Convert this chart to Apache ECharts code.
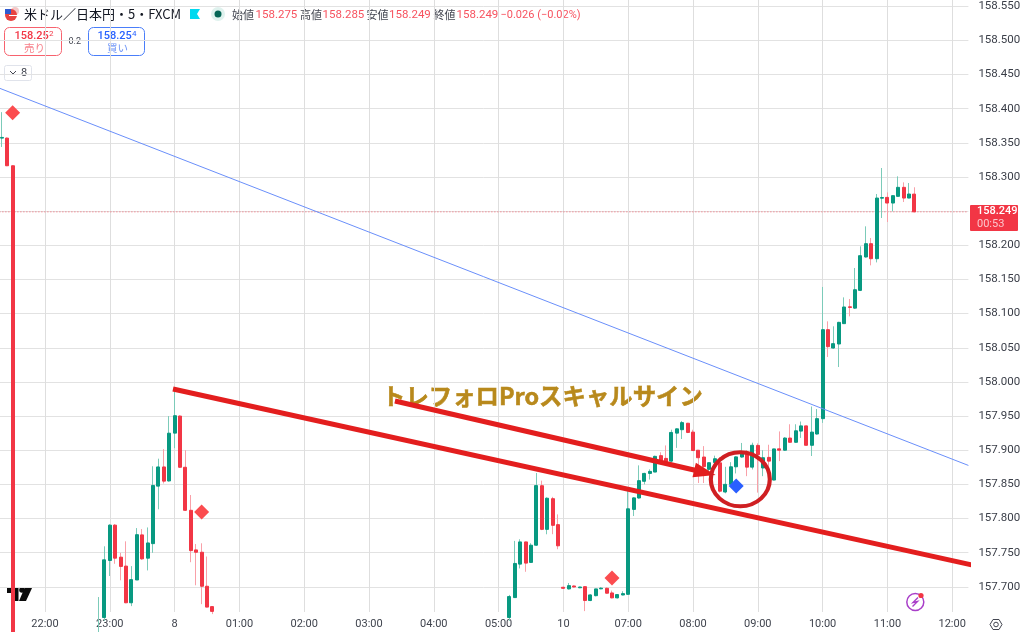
<!DOCTYPE html>
<html>
<head>
<meta charset="utf-8">
<style>html,body{margin:0;padding:0;background:#fff}#c{width:1024px;height:632px}</style>
<script src="https://cdn.jsdelivr.net/npm/echarts@6/dist/echarts.min.js"></script>
</head>
<body>
<div id="c"></div>
<script>
// --- axis labels
const gridPrices = [157.7,157.75,157.8,157.85,157.9,157.95,158,158.05,158.1,158.15,158.2,158.25,158.3,158.35,158.4,158.45,158.5,158.55];
const labelPrices = [157.7,157.75,157.8,157.85,157.9,157.95,158,158.05,158.1,158.15,158.2,158.3,158.35,158.4,158.45,158.5,158.55];
const dayLabels = {'00:00':'8','06:00':'10'};
const firstCategory = '21:15', categoryCount = 181;

// --- candles: [open, close, low, high]
const segAStart = '21:20';
const segA = [
 [158.357,158.358,158.344,158.395],
 [158.357,158.3165,158.316,158.358],
 [158.3165,157.6,157.6,158.317]
];
const segBStart = '22:50';
const segB = [
 [157.64,157.65,157.63,157.685],
 [157.655,157.7395,157.65,157.7593],
 [157.7385,157.7903,157.7158,157.7915],
 [157.7903,157.7419,157.7337,157.7918],
 [157.7434,157.7298,157.7095,157.7497],
 [157.7303,157.6766,157.676,157.7666],
 [157.6766,157.7105,157.6717,157.7303],
 [157.71,157.7763,157.71,157.786],
 [157.776,157.7409,157.7395,157.7845],
 [157.7419,157.7642,157.724,157.7869],
 [157.7632,157.8484,157.7497,157.8765],
 [157.8474,157.8755,157.8135,157.8876],
 [157.8755,157.8547,157.8513,157.9016],
 [157.855,157.9249,157.854,157.95],
 [157.925,157.9505,157.903,157.99],
 [157.95,157.875,157.874,157.951],
 [157.875,157.812,157.811,157.9],
 [157.812,157.753,157.736,157.8344],
 [157.754,157.7506,157.7022,157.7627],
 [157.7506,157.7008,157.6746,157.7637],
 [157.7008,157.6703,157.67,157.7443],
 [157.671,157.664,157.66,157.671]
];
const segCStart = '05:10';
const segC = [
 [157.655,157.6857,157.65,157.6881],
 [157.6842,157.7342,157.684,157.7672],
 [157.7332,157.7657,157.7269,157.7696],
 [157.7657,157.7347,157.722,157.766],
 [157.7357,157.7609,157.735,157.7638],
 [157.7609,157.8482,157.76,157.8666],
 [157.848,157.7841,157.783,157.8554],
 [157.7841,157.8297,157.7769,157.831],
 [157.829,157.79,157.777,157.8317],
 [157.791,157.76,157.755,157.806],
 [157.6993,157.6978,157.697,157.7],
 [157.6969,157.7017,157.696,157.7056],
 [157.7012,157.6997,157.699,157.702],
 [157.6986,157.6997,157.698,157.7],
 [157.7002,157.6799,157.6644,157.7005],
 [157.6799,157.6881,157.679,157.689],
 [157.687,157.6969,157.686,157.697],
 [157.697,157.698,157.6965,157.6993],
 [157.6978,157.6906,157.69,157.699],
 [157.691,157.6838,157.683,157.6944],
 [157.6838,157.6886,157.683,157.689],
 [157.688,157.69,157.6875,157.6935],
 [157.689,157.8142,157.688,157.84],
 [157.8133,157.8302,157.8036,157.831],
 [157.83,157.8554,157.829,157.8778],
 [157.8545,157.866,157.85,157.867],
 [157.866,157.869,157.857,157.872],
 [157.868,157.891,157.868,157.892],
 [157.892,157.885,157.88,157.897],
 [157.888,157.883,157.88,157.907],
 [157.884,157.926,157.882,157.93],
 [157.925,157.9313,157.9034,157.932],
 [157.93,157.9404,157.9164,157.9428],
 [157.9395,157.926,157.925,157.94],
 [157.9265,157.8995,157.899,157.93],
 [157.9,157.889,157.852,157.9],
 [157.89,157.876,157.852,157.906],
 [157.872,157.8817,157.867,157.882],
 [157.882,157.8875,157.881,157.892],
 [157.8815,157.84,157.838,157.89],
 [157.8388,157.85,157.8369,157.8757],
 [157.85,157.8757,157.849,157.8825],
 [157.8757,157.8902,157.866,157.891],
 [157.89,157.897,157.889,157.9106],
 [157.897,157.8752,157.862,157.9],
 [157.8752,157.9072,157.8718,157.911],
 [157.907,157.8936,157.8379,157.91],
 [157.874,157.889,157.862,157.9],
 [157.8895,157.884,157.862,157.908],
 [157.8563,157.9019,157.856,157.902],
 [157.902,157.9,157.884,157.9275],
 [157.9,157.9178,157.899,157.919],
 [157.9178,157.9116,157.911,157.938],
 [157.9116,157.9284,157.911,157.938],
 [157.928,157.9356,157.918,157.942],
 [157.9356,157.9072,157.907,157.936],
 [157.9072,157.9265,157.8915,157.964],
 [157.9237,157.9462,157.9228,157.9603],
 [157.9462,158.0765,157.94,158.139],
 [158.0765,158.0516,158.0365,158.0887],
 [158.0496,158.056,158.0487,158.0814],
 [158.0555,158.0872,158.0218,158.088],
 [158.0853,158.1097,158.085,158.1238],
 [158.11,158.109,158.096,158.1214],
 [158.108,158.135,158.107,158.1668],
 [158.134,158.1848,158.133,158.1985],
 [158.1829,158.2024,158.182,158.2278],
 [158.2024,158.1804,158.1707,158.2107],
 [158.1804,158.2692,158.175,158.2751],
 [158.269,158.27,158.24,158.3132],
 [158.2702,158.2619,158.2341,158.2775],
 [158.2619,158.2727,158.2497,158.273],
 [158.2717,158.2849,158.2715,158.301],
 [158.2849,158.2692,158.2634,158.2922],
 [158.2692,158.2751,158.269,158.2912],
 [158.275,158.249,158.249,158.285]
];
const lastPrice = 158.249;

// --- signal diamonds: [time, price]
const sellSignals = [['21:30',158.394],['00:25',157.8095],['06:45',157.7129]];
const buySignals = [['08:40',157.8476]];

// --- drawn annotations on the chart: [bar position, price]
const blueTrend = [[0,158.4318],[180,157.8777]];
const redTrendLong = [[32.7,157.9896],[180.67,157.7319]];
const redTrendArrow = [[73.8,157.972],[131.2,157.8673]];
const signalRing = [[137.76,157.8575]];

const GREEN='#089981', RED='#f23645', GREEN_W='#7ccbb9', RED_W='#f9a0a8';
const FONT='Roboto,"Noto Sans CJK JP",sans-serif', JP='"Noto Sans CJK JP",sans-serif';

function toMin(t){const p=t.split(':');return +p[0]*60+ +p[1];}
function fmt(m){m=m%1440;return String(Math.floor(m/60)).padStart(2,'0')+':'+String(m%60).padStart(2,'0');}
const categories=[];
for(let i=0;i<categoryCount;i++)categories.push(fmt(toMin(firstCategory)+i*5));
const byTime={};
[[segAStart,segA],[segBStart,segB],[segCStart,segC]].forEach(([s,arr])=>{
  arr.forEach((c,i)=>{byTime[fmt(toMin(s)+i*5)]=c;});
});
const wicks=categories.map(t=>byTime[t]||['-','-','-','-']);
const bodies=categories.map(t=>{const c=byTime[t];return c?[c[0],c[1],Math.min(c[0],c[1]),Math.max(c[0],c[1])]:['-','-','-','-'];});
const isHour=(i,v)=>v.endsWith(':00');

function t(x,y,text,size,fill,extra){
  return {type:'text',silent:true,style:Object.assign({x,y,text,fill,font:size+'px '+FONT,textVerticalAlign:'middle'},extra||{})};
}
const graphics=[
  // header
  {type:'circle',shape:{cx:15,cy:11,r:4},style:{fill:'#f4c9c9'}},
  {type:'circle',shape:{cx:11,cy:15,r:6},style:{fill:'#e8423f'}},
  {type:'rect',shape:{x:5,y:9,width:6,height:5},style:{fill:'#2f5bd0'}},
  {type:'rect',shape:{x:9,y:15,width:8,height:1},style:{fill:'#fff'}},
  t(24,14.5,'米ドル／日本円・5・FXCM',13,'#131722',{font:'13px '+JP}),
  {type:'polygon',shape:{points:[[190,9],[200,9],[197,14],[200,19],[190,19]]},style:{fill:'#00d9f0'}},
  {type:'circle',shape:{cx:218,cy:14,r:7},style:{fill:'#dff2ee'}},
  {type:'circle',shape:{cx:218,cy:14,r:3.5},style:{fill:'#056656'}},
  t(232,15,'始値',11,'#434651',{font:'11px '+JP}),t(255.5,15,'158.275',11.5,'#f7525f'),
  t(300,15,'高値',11,'#434651',{font:'11px '+JP}),t(322.5,15,'158.285',11.5,'#f7525f'),
  t(366.5,15,'安値',11,'#434651',{font:'11px '+JP}),t(389,15,'158.249',11.5,'#f7525f'),
  t(433.5,15,'終値',11,'#434651',{font:'11px '+JP}),t(456.5,15,'158.249',11.5,'#f7525f'),
  t(500.5,15,'−0.026 (−0.02%)',11,'#f7525f'),
  // bid / ask
  {type:'rect',shape:{x:4.5,y:27.5,width:57,height:28,r:5},style:{fill:'#fff',stroke:'#f7626e',lineWidth:1}},
  t(14.5,36,'158.25',11,'#f23645',{font:'500 11px '+FONT}),t(49,33.5,'2',8,'#f23645'),
  t(24,48,'売り',10.5,'#f7808a',{font:'10.5px '+JP}),
  t(68.5,41.5,'0.2',9,'#434651'),
  {type:'rect',shape:{x:88.5,y:27.5,width:56,height:28,r:5},style:{fill:'#fff',stroke:'#4a7efa',lineWidth:1}},
  t(97.5,36,'158.25',11,'#2962ff',{font:'500 11px '+FONT}),t(132,33.5,'4',8,'#2962ff'),
  t(107,48,'買い',10.5,'#6d94f7',{font:'10.5px '+JP}),
  {type:'rect',shape:{x:4.5,y:65.5,width:27,height:15,r:2},style:{fill:'#fff',stroke:'#e0e3eb',lineWidth:1}},
  {type:'polyline',shape:{points:[[10,71],[13,74],[16,71]]},style:{stroke:'#434651',fill:'none',lineWidth:1}},
  t(21,73,'8',11,'#434651'),
  // annotation caption
  t(382,396,'トレフォロProスキャルサイン',23.4,'#b8891c',{font:'bold 23.4px '+JP,stroke:'#b8891c',lineWidth:0.5}),
  // price tag
  {type:'rect',shape:{x:970,y:205,width:48,height:26,r:1},style:{fill:RED}},
  t(977,211.5,'158.249',11,'#fff',{font:'500 11px '+FONT}),
  t(977,224.5,'00:53',11,'#fbc6cb'),
  // TradingView mark
  {type:'polygon',shape:{points:[[7,587],[18.5,587],[18.5,601],[12.5,601],[12.5,593],[7,593]]},style:{fill:'#0b0b0b'}},
  {type:'circle',shape:{cx:22,cy:590,r:2.8},style:{fill:'#0b0b0b'}},
  {type:'polygon',shape:{points:[[25,587],[32.5,587],[26,601],[19,601]]},style:{fill:'#0b0b0b'}},
  // bolt badge
  {type:'circle',shape:{cx:915.3,cy:602,r:8.5},style:{fill:'#fff',stroke:'#a93fc9',lineWidth:1.5}},
  {type:'polyline',shape:{points:[[918,597.5],[913,602.5],[917.5,601.5],[912.5,606.5]]},style:{stroke:'#a93fc9',fill:'none',lineWidth:1.4}},
  {type:'circle',shape:{cx:921,cy:595.5,r:2.6},style:{fill:'#f23645'}},
  // settings glyph
  {type:'polygon',shape:{points:[[990,624.5],[993,619.5],[999,619.5],[1002,624.5],[999,629.5],[993,629.5]]},style:{fill:'none',stroke:'#434651',lineWidth:1}},
  {type:'circle',shape:{cx:996,cy:624.5,r:2.3},style:{fill:'none',stroke:'#434651',lineWidth:1}}
];

const option={
  animation:false,
  backgroundColor:'#fff',
  grid:{left:-3.6,right:55.6,top:0,bottom:20,containLabel:false,outerBoundsMode:'none'},
  xAxis:[
    {type:'category',data:categories,boundaryGap:false,
      axisLine:{show:false},axisTick:{show:false},
      splitLine:{show:true,interval:isHour,lineStyle:{color:'#dedede',width:1}},
      axisLabel:{interval:isHour,margin:7,fontFamily:'Roboto',fontSize:11,color:'#3f434d',
        formatter:v=>dayLabels[v]||v}},
    {type:'value',min:0,max:categoryCount-1,show:false,splitLine:{show:false}}
  ],
  yAxis:{type:'value',position:'right',min:157.6631,max:158.5592,scale:true,
    axisLine:{show:false},
    axisTick:{show:false,customValues:gridPrices},
    splitLine:{show:true,lineStyle:{color:'#e2e2e2',width:1}},
    axisLabel:{customValues:labelPrices,margin:10,fontFamily:'Roboto',fontSize:11.5,color:'#3a3e48',
      formatter:v=>v.toFixed(3)}},
  graphic:{elements:graphics,z:100},
  series:[
    {type:'candlestick',name:'wick',data:wicks,barWidth:1,z:2,
      itemStyle:{color:GREEN_W,color0:RED_W,borderColor:GREEN_W,borderColor0:RED_W,borderWidth:1}},
    {type:'candlestick',name:'body',data:bodies,barWidth:3.5,z:3,
      itemStyle:{color:GREEN,color0:RED,borderColor:GREEN,borderColor0:RED,borderWidth:1}},
    {type:'line',name:'last',xAxisIndex:1,data:[[0,lastPrice],[categoryCount-1,lastPrice]],showSymbol:false,z:1,
      lineStyle:{color:'#f7525f',type:[1,2],width:1,opacity:0.9}},
    {type:'line',name:'blue',xAxisIndex:1,data:blueTrend,showSymbol:false,z:4,
      lineStyle:{color:'#6a8ffa',width:1}},
    {type:'line',name:'red1',xAxisIndex:1,data:redTrendLong,showSymbol:false,clip:false,z:6,
      lineStyle:{color:'#e31e1e',width:5}},
    {type:'line',name:'red2',xAxisIndex:1,clip:false,z:6,symbol:'none',
      data:[redTrendArrow[0],{value:redTrendArrow[1],symbol:'triangle',symbolSize:[15,22],symbolRotate:-103,itemStyle:{color:'#e31e1e',opacity:1}}],
      showSymbol:true,showAllSymbol:true,
      lineStyle:{color:'#e31e1e',width:5},itemStyle:{color:'#e31e1e'}},
    {type:'scatter',name:'sell',data:sellSignals,symbol:'diamond',symbolSize:15,z:5,
      itemStyle:{color:'#fb4c4f',opacity:1}},
    {type:'scatter',name:'buy',data:buySignals,symbol:'diamond',symbolSize:15,z:5,
      itemStyle:{color:'#2a5fff',opacity:1}},
    {type:'scatter',name:'ring',xAxisIndex:1,data:signalRing,symbol:'circle',symbolSize:[59,54],z:6,
      itemStyle:{color:'rgba(0,0,0,0)',borderColor:'#cf1f22',borderWidth:4,opacity:1}}
  ]
};
echarts.init(document.getElementById('c'),null,{renderer:'canvas'}).setOption(option);
</script>
</body>
</html>
